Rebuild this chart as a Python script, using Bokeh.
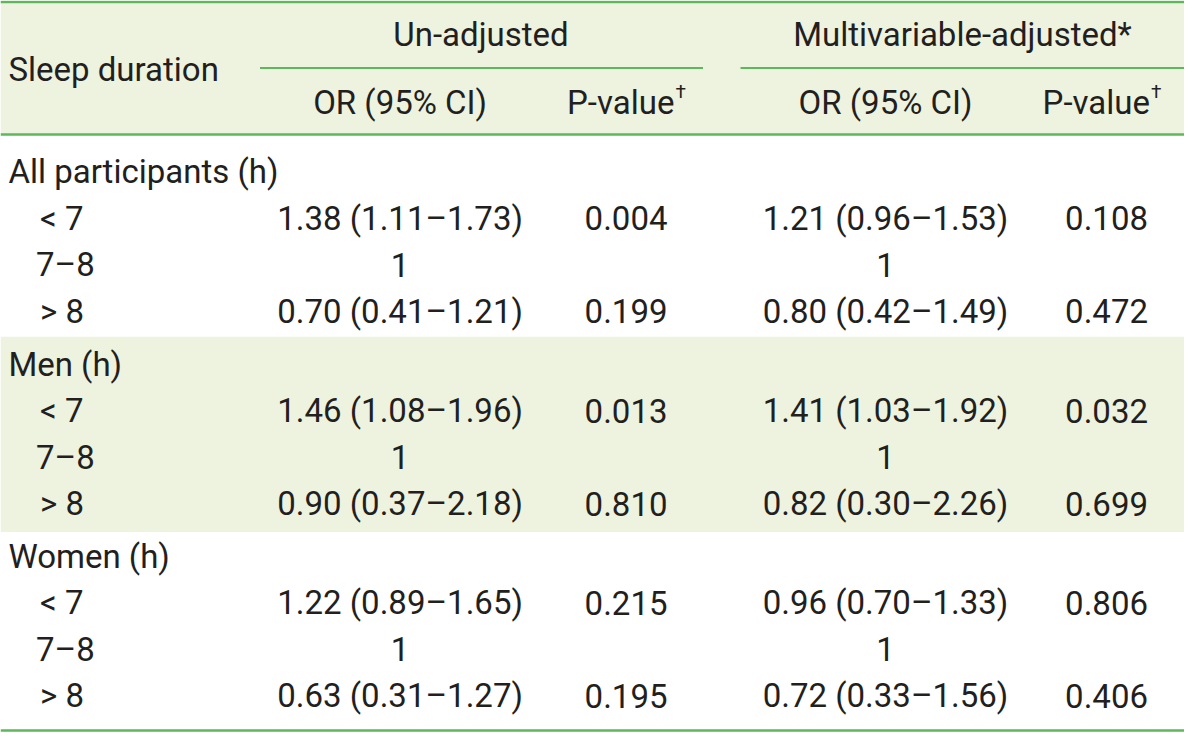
from bokeh.plotting import figure
from bokeh.models import Range1d
from bokeh.core.properties import value
from bokeh.embed import file_html
from bokeh.resources import INLINE

# ---- data ----
groups = ["All participants (h)", "Men (h)", "Women (h)"]
categories = ["< 7", "7\u20138", "> 8"]
# un-adjusted OR (None = reference category)
un_or = [1.38, None, 0.70, 1.46, None, 0.90, 1.22, None, 0.63]
un_lo = [1.11, None, 0.41, 1.08, None, 0.37, 0.89, None, 0.31]
un_hi = [1.73, None, 1.21, 1.96, None, 2.18, 1.65, None, 1.27]
un_p = ["0.004", "", "0.199", "0.013", "", "0.810", "0.215", "", "0.195"]
# multivariable-adjusted
adj_or = [1.21, None, 0.80, 1.41, None, 0.82, 0.96, None, 0.72]
adj_lo = [0.96, None, 0.42, 1.03, None, 0.30, 0.70, None, 0.33]
adj_hi = [1.53, None, 1.49, 1.92, None, 2.26, 1.33, None, 1.56]
adj_p = ["0.108", "", "0.472", "0.032", "", "0.699", "0.806", "", "0.406"]

header_top = ["Un-adjusted", "Multivariable-adjusted*"]
header_sub = ["OR (95% CI)", "P-value", "OR (95% CI)", "P-value"]
stub_title = "Sleep duration"

# ---- style ----
FONT = "Roboto"
TXT = "#231f20"
GREEN = "#5cb85a"
SHADE = "#eef3e0"
FS = "33px"


def fmt(o, lo, hi):
    if o is None:
        return "1"
    return f"{o:.2f} ({lo:.2f}\u2013{hi:.2f})"


p = figure(width=1184, height=734, x_range=Range1d(0, 1200), y_range=Range1d(750, 0),
           output_backend="svg", toolbar_location=None, min_border=0)
p.axis.visible = False
p.grid.visible = False
p.outline_line_color = None
p.background_fill_color = "white"

# shaded bands
p.quad(left=[0], right=[1200], top=[0], bottom=[137], fill_color=SHADE, line_color=None)
g_y = [175 + 196.5 * g for g in range(len(groups))]
p.quad(left=[0], right=[1200], top=[g_y[1] - 28], bottom=[g_y[1] + 3 * 47.5 + 29],
       fill_color=SHADE, line_color=None)

# rules
p.segment(x0=[0, 0, 0], x1=[1200, 1200, 1200], y0=[1.5, 137, 746], y1=[1.5, 137, 746],
          line_color=GREEN, line_width=2.5)
p.segment(x0=[263, 750], x1=[712, 1200], y0=[69, 69], y1=[69, 69], line_color=GREEN, line_width=2)

common = dict(text_font=value(FONT), text_font_size=FS, text_color=TXT, text_baseline="middle")

# header texts
p.text(x=[8], y=[71], text=[stub_title], text_align="left", **common)
p.text(x=[487, 975], y=[35, 35], text=header_top, text_align="center", **common)
p.text(x=[405, 897], y=[104] * 2, text=[header_sub[0], header_sub[2]], text_align="center", **common)
p.text(x=[683, 1165], y=[104] * 2, text=[header_sub[1], header_sub[3]], text_align="right", **common)
p.text(x=[684, 1166], y=[93, 93], text=["\u2020", "\u2020"], text_align="left",
       text_font=value(FONT), text_font_size="19px", text_color=TXT, text_baseline="middle")

# body
gx, gyy, gt = [], [], []
rx, ry, rt = [], [], []
c1, c2, c3, c4 = [], [], [], []
ys = []
for g, name in enumerate(groups):
    gx.append(8); gyy.append(g_y[g]); gt.append(name)
    for j, cat in enumerate(categories):
        i = g * 3 + j
        y = g_y[g] + 47.5 * (j + 1)
        ys.append(y)
        rx.append(36 if j == 1 else 40); ry.append(y); rt.append(cat)
        c1.append(fmt(un_or[i], un_lo[i], un_hi[i]))
        c2.append(un_p[i])
        c3.append(fmt(adj_or[i], adj_lo[i], adj_hi[i]))
        c4.append(adj_p[i])

p.text(x=gx, y=gyy, text=gt, text_align="left", **common)
p.text(x=rx, y=ry, text=rt, text_align="left", **common)
p.text(x=[405] * len(ys), y=ys, text=c1, text_align="center", **common)
p.text(x=[634] * len(ys), y=ys, text=c2, text_align="center", **common)
p.text(x=[897] * len(ys), y=ys, text=c3, text_align="center", **common)
p.text(x=[1121] * len(ys), y=ys, text=c4, text_align="center", **common)

open("out.html", "w").write(file_html(p, INLINE))
